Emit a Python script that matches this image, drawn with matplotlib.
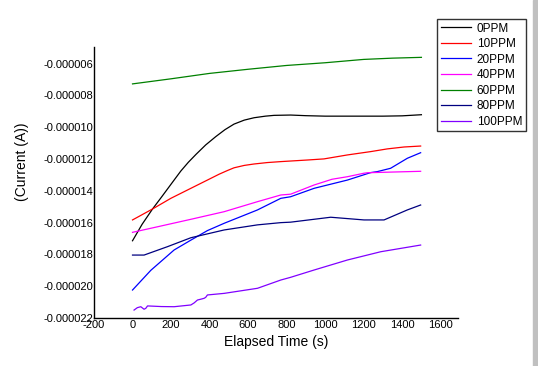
import matplotlib.pyplot as plt
from matplotlib.patches import Rectangle
from matplotlib.ticker import FormatStrFormatter

plt.rcParams['font.family'] = ['Liberation Sans', 'DejaVu Sans']
plt.rcParams['axes.unicode_minus'] = False

# series data, current in microamps (converted to A below)
x_0ppm = [0, 50, 104, 150, 216, 251, 290, 330, 380, 432, 480, 527, 580, 631, 690, 735, 821, 900, 1000, 1100,
          1200, 1300, 1400, 1500]
y_0ppm = [-17.14, -16.1, -15.14, -14.4, -13.32, -12.75, -12.2, -11.7, -11.11, -10.59, -10.15, -9.8, -9.55,
          -9.4, -9.3, -9.25, -9.23, -9.27, -9.3, -9.3, -9.3, -9.3, -9.28, -9.21]

x_10ppm = [0, 104, 199, 303, 389, 450, 493, 527, 580, 631, 700, 770, 907, 994, 1116, 1237, 1323, 1410, 1496]
y_10ppm = [-15.83, -15.14, -14.47, -13.84, -13.32, -12.95, -12.72, -12.55, -12.4, -12.31, -12.22, -12.16,
           -12.06, -11.99, -11.74, -11.53, -11.36, -11.24, -11.18]

x_20ppm = [0, 95, 216, 303, 389, 476, 649, 770, 821, 943, 1116, 1237, 1271, 1340, 1427, 1496]
y_20ppm = [-20.24, -19.0, -17.72, -17.1, -16.5, -16.04, -15.2, -14.47, -14.37, -13.84, -13.32, -12.85,
           -12.79, -12.58, -11.95, -11.6]

x_40ppm = [0, 130, 303, 476, 649, 770, 821, 943, 1036, 1116, 1202, 1219, 1340, 1496]
y_40ppm = [-16.61, -16.26, -15.79, -15.31, -14.68, -14.26, -14.21, -13.63, -13.27, -13.11, -12.89, -12.86,
           -12.82, -12.77]

x_60ppm = [0, 200, 400, 600, 800, 1000, 1200, 1350, 1500]
y_60ppm = [-7.27, -6.95, -6.61, -6.35, -6.11, -5.94, -5.73, -5.65, -5.6]

x_80ppm = [0, 60, 182, 303, 476, 649, 770, 821, 1029, 1202, 1306, 1427, 1496]
y_80ppm = [-18.04, -18.04, -17.51, -16.95, -16.46, -16.14, -16.0, -15.97, -15.66, -15.83, -15.83, -15.2, -14.89]

x_100ppm = [8, 25, 43, 60, 69, 78, 150, 216, 303, 320, 337, 360, 372, 380, 389, 476, 649, 770, 821, 943,
            1116, 1289, 1496]
y_100ppm = [-21.5, -21.35, -21.29, -21.45, -21.39, -21.24, -21.28, -21.29, -21.18, -21.05, -20.87, -20.8,
            -20.76, -20.7, -20.55, -20.45, -20.13, -19.61, -19.44, -18.98, -18.35, -17.83, -17.41]

labels = ['0PPM', '10PPM', '20PPM', '40PPM', '60PPM', '80PPM', '100PPM']
colors = ['#000000', '#ff0000', '#0000ff', '#ff00ff', '#008000', '#000080', '#8000ff']
xs = [x_0ppm, x_10ppm, x_20ppm, x_40ppm, x_60ppm, x_80ppm, x_100ppm]
ys = [y_0ppm, y_10ppm, y_20ppm, y_40ppm, y_60ppm, y_80ppm, y_100ppm]

x_ticks = list(range(-200, 1601, 200))
y_ticks = [v * 1e-6 for v in range(-22, -5, 2)]

fig = plt.figure(figsize=(5.38, 3.66), dpi=100)
ax = fig.add_axes([94 / 538, 1 - 318 / 366, (458 - 94) / 538, (318 - 46.7) / 366])

for x, y, lab, c in zip(xs, ys, labels, colors):
    ax.plot(x, [v * 1e-6 for v in y], color=c, lw=0.9, label=lab)

ax.set_xlim(-200, 1690)
ax.set_ylim(-2.2e-5, -4.93e-6)
ax.set_xticks(x_ticks)
ax.set_yticks(y_ticks)
ax.yaxis.set_major_formatter(FormatStrFormatter('%.6f'))
ax.tick_params(length=0, labelsize=8)
ax.tick_params(axis='y', pad=0.5)
ax.tick_params(axis='x', pad=1.5)
for s in ['top', 'right']:
    ax.spines[s].set_visible(False)
for s in ['left', 'bottom']:
    ax.spines[s].set_linewidth(1.0)

fig.text(276 / 538, 1 - 342 / 366, 'Elapsed Time (s)', ha='center', va='center', fontsize=10)
fig.text(22 / 538, 1 - 162 / 366, '(Current (A))', ha='center', va='center', rotation=90, fontsize=10)

leg = fig.legend(loc='upper left', bbox_to_anchor=(437 / 538, 1 - 19 / 366), fontsize=8.5,
                 frameon=True, fancybox=False, borderaxespad=0, handlelength=2.6,
                 handletextpad=0.45, labelspacing=0.3, borderpad=0.3)
leg.get_frame().set_edgecolor('black')
leg.get_frame().set_linewidth(1.0)

# grey strip at the right edge
fig.patches.append(Rectangle((533 / 538, 0), 5 / 538, 1, transform=fig.transFigure,
                             color='#c0c0c0', zorder=0))

plt.savefig('out.png', dpi=100)
